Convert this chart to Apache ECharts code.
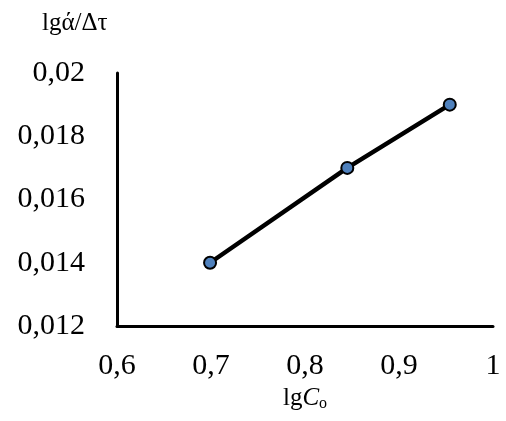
<!DOCTYPE html>
<html><head><meta charset="utf-8">
<script src="https://cdn.jsdelivr.net/npm/echarts@6/dist/echarts.min.js"></script>
<style>html,body{margin:0;padding:0;background:#fff}#c{width:506px;height:421px}</style>
</head><body><div id="c"></div>
<script>
var xValues = [0.699, 0.845, 0.954];
var yValues = [0.014, 0.017, 0.019];
var xTicks = [0.6, 0.7, 0.8, 0.9, 1.0];
var yTicks = [0.012, 0.014, 0.016, 0.018, 0.02];

var chart = echarts.init(document.getElementById('c'), null, {renderer: 'canvas'});
var font = '"Liberation Serif", "Times New Roman", serif';
function fmt(v){ return String(+v.toFixed(3)).replace('.', ','); }
chart.setOption({
  animation: false,
  backgroundColor: '#fff',
  grid: {left: 117, right: 13, top: 73, bottom: 95},
  graphic: [{
    type: 'text', left: 42, top: 11,
    style: {text: 'lgά/Δτ', font: '25px ' + font, fill: '#000'}
  }],
  xAxis: {
    type: 'value', min: 0.6, max: 1.0, interval: 0.1,
    axisLine: {lineStyle: {color: '#000', width: 3}},
    axisTick: {show: false}, splitLine: {show: false},
    axisLabel: {color: '#000', fontFamily: font, fontSize: 30, margin: 25,
      formatter: function(v){ return fmt(v); }},
    name: '{n|lg}{i|C}{s|o}', nameLocation: 'middle', nameGap: 38,
    nameTextStyle: {rich: {
      n: {fontFamily: font, fontSize: 25, color: '#000'},
      i: {fontFamily: font, fontSize: 25, fontStyle: 'italic', color: '#000'},
      s: {fontFamily: font, fontSize: 16, color: '#000', verticalAlign: 'bottom', padding: [10,0,0,0]}
    }}
  },
  yAxis: {
    type: 'value', min: 0.012, max: 0.02, interval: 0.002,
    axisLine: {show: true, lineStyle: {color: '#000', width: 3}},
    axisTick: {show: false}, splitLine: {show: false},
    axisLabel: {color: '#000', fontFamily: font, fontSize: 30, margin: 32,
      formatter: function(v){ return fmt(v); }}
  },
  series: [{
    type: 'line',
    data: xValues.map(function(x, i){ return [x, yValues[i]]; }),
    lineStyle: {color: '#000', width: 4.5},
    symbol: 'circle', symbolSize: 12,
    itemStyle: {color: '#4F81BD', borderColor: '#000', borderWidth: 2}
  }]
});
</script></body></html>
